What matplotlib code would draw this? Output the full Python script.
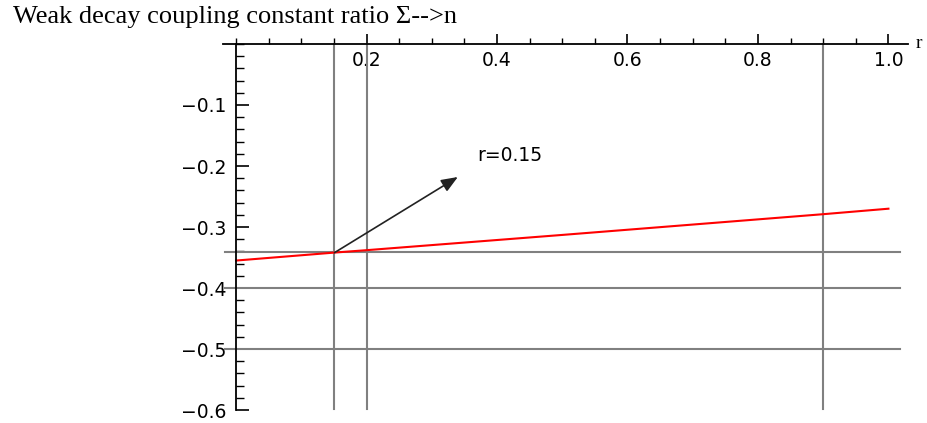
import matplotlib
matplotlib.use("Agg")
import matplotlib.pyplot as plt
import numpy as np

# ---- data ----
r_vals = [0.0, 0.15, 0.2, 0.5, 0.9, 1.0]
ratio_vals = [-0.355, -0.342, -0.338, -0.313, -0.279, -0.270]
vlines_x = [0.15, 0.2, 0.9]
hlines_y = [-0.3415, -0.4, -0.5]
xticks_major = [0.2, 0.4, 0.6, 0.8, 1.0]
xtick_labels = ["0.2", "0.4", "0.6", "0.8", "1.0"]
yticks_major = [-0.1, -0.2, -0.3, -0.4, -0.5, -0.6]
ytick_labels = ["\u22120.1", "\u22120.2", "\u22120.3", "\u22120.4", "\u22120.5", "\u22120.6"]
title_text = "Weak decay coupling constant ratio \u03a3-->n"
arrow_start = (0.151, -0.342)
arrow_end = (0.34, -0.218)
annot_text = "r=0.15"
annot_pos = (0.369, -0.182)

fig = plt.figure(figsize=(9.27, 4.23), dpi=100)
ax = fig.add_axes([223/927, 1-410/423, (908-223)/927, (410-44)/423])
ax.set_xlim(-0.02, 1.03)
ax.set_ylim(-0.6, 0.0)

for s in ["top", "right"]:
    ax.spines[s].set_visible(False)
ax.spines["left"].set_position(("data", 0))
ax.spines["bottom"].set_position(("data", 0))
ax.spines["bottom"].set_bounds(-0.02, 1.03)
ax.spines["left"].set_bounds(-0.6, 0.0)
for s in ["left", "bottom"]:
    ax.spines[s].set_linewidth(1.3)
    ax.spines[s].set_zorder(5)

ax.set_xticks(xticks_major)
ax.set_xticklabels(xtick_labels)
ax.set_xticks([x for x in np.arange(0, 1.0001, 0.05) if not any(abs(x - m) < 1e-6 for m in xticks_major)], minor=True)
ax.set_yticks(yticks_major)
ax.set_yticklabels(ytick_labels)
ax.set_yticks([y for y in np.arange(0, -0.6001, -0.02) if not any(abs(y - m) < 1e-6 for m in yticks_major)], minor=True)

ax.tick_params(axis="x", which="major", direction="in", length=7, width=1.2, pad=5, labelsize=13.5)
ax.tick_params(axis="x", which="minor", direction="in", length=4, width=1.0)
ax.tick_params(axis="y", which="major", direction="in", length=9, width=1.2, pad=7, labelsize=13.5)
ax.tick_params(axis="y", which="minor", direction="in", length=6, width=1.0)

# reference lines
for xv in vlines_x:
    ax.plot([xv, xv], [0.0, -0.598], color="#808080", lw=1.5, clip_on=False, zorder=2)
for yv in hlines_y:
    ax.plot([-0.017, 1.018], [yv, yv], color="#808080", lw=1.5, clip_on=False, zorder=2)

ax.plot(r_vals, ratio_vals, color="red", lw=1.5, zorder=3, clip_on=False)

ax.annotate("", xy=arrow_end, xytext=arrow_start,
            arrowprops=dict(arrowstyle="-|>,head_length=1.0,head_width=0.4", color="#222222", lw=1.2,
                            shrinkA=0, shrinkB=0), zorder=4)
ax.text(annot_pos[0], annot_pos[1], annot_text, ha="left", va="center", fontsize=13.5,
        family="DejaVu Sans", color="black")

ax.text(1.041, 0.0, "r", ha="left", va="center", fontsize=14, family="Liberation Serif", clip_on=False)

fig.text(13/927, 1-17/423, title_text, ha="left", va="center", fontsize=19, family="Liberation Serif")

fig.savefig("out.png", dpi=100)
